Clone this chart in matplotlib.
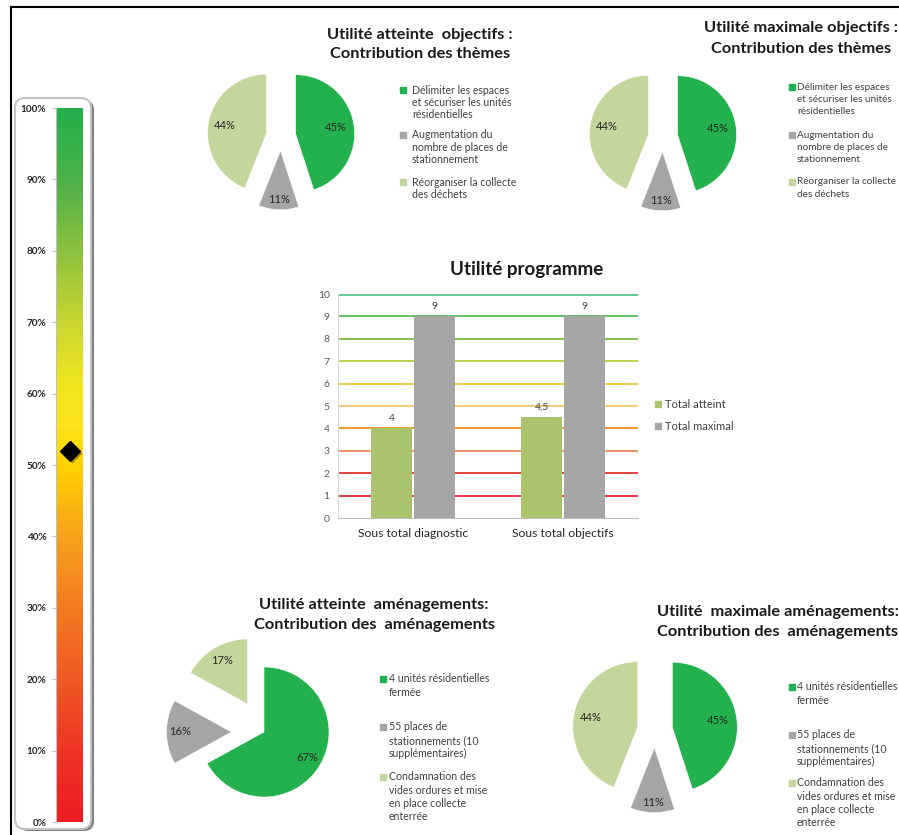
import numpy as np
import matplotlib
matplotlib.use('Agg')
import matplotlib.pyplot as plt
from matplotlib.colors import LinearSegmentedColormap
from matplotlib.patches import FancyBboxPatch, Rectangle
from matplotlib.transforms import offset_copy

plt.rcParams['font.family'] = ['Lato', 'DejaVu Sans']

# ---- data ----
gauge_ticks = [0, 10, 20, 30, 40, 50, 60, 70, 80, 90, 100]
gauge_value = 52

theme_labels = ['Délimiter les espaces\net sécuriser les unités\nrésidentielles',
                'Augmentation du\nnombre de places de\nstationnement',
                'Réorganiser la collecte\ndes déchets']
obj_atteint = [45, 11, 44]
obj_maximal = [45, 11, 44]

amen_labels = ['4 unités résidentielles\nfermée',
               '55 places de\nstationnements (10\nsupplémentaires)',
               'Condamnation des\nvides ordures et mise\nen place collecte\nenterrée']
amen_atteint = [67, 16, 17]
amen_maximal = [45, 11, 44]

prog_categories = ['Sous total diagnostic', 'Sous total objectifs']
prog_series = ['Total atteint', 'Total maximal']
total_atteint = [4, 4.5]
total_maximal = [9, 9]
prog_ticks = [0, 1, 2, 3, 4, 5, 6, 7, 8, 9, 10]

# ---- style ----
pie_colors = ['#22B14C', '#A5A5A5', '#C3D69B']
bar_colors = ['#A9C46C', '#A6A6A6']
grid_colors = ['#D9282A', '#E0342C', '#EE8A5B', '#F2901F', '#F6C56C',
               '#E9CB3A', '#BACB45', '#7DBB46', '#56BB58', '#5FC48B']
gauge_cmap = LinearSegmentedColormap.from_list('gauge', [
    (0.0, '#ED1C24'), (0.1, '#EE3524'), (0.2, '#F05A24'), (0.3, '#F47B20'),
    (0.4, '#F7A21B'), (0.5, '#FFD200'), (0.56, '#FCE51C'), (0.62, '#EFE41E'),
    (0.7, '#C9D630'), (0.8, '#8DC13F'), (0.9, '#4DB048'), (1.0, '#22B14C')])
text_col = '#404040'

W, H = 899, 835
fig = plt.figure(figsize=(W / 100, H / 100), dpi=100)

# background axes in pixel coordinates
bg = fig.add_axes([0, 0, 1, 1])
bg.set_xlim(0, W)
bg.set_ylim(H, 0)
bg.axis('off')


def px_axes(x, y, w, h):
    ax = fig.add_axes([x / W, 1 - (y + h) / H, w / W, h / H])
    ax.set_facecolor('none')
    return ax


def draw_title(x, ys, text, size, ha='center'):
    for y, line in zip(ys, text.split('\n')):
        bg.text(x, y, line, fontsize=size, fontweight='bold', ha=ha,
                va='center', color='#1a1a1a')


def draw_legend(x_sq, x_txt, y_first, lh, labels, colors, size=7.6):
    for y0, lab, c in zip(y_first, labels, colors):
        bg.add_patch(Rectangle((x_sq - 3, y0 - 3), 6, 6, color=c))
        for i, line in enumerate(lab.split('\n')):
            bg.text(x_txt, y0 + i * lh, line, fontsize=size, color=text_col,
                    ha='left', va='center')


def draw_pie(cx, cy, r, values, explode, label_dist):
    half = 2.0 * r
    ax = px_axes(cx - half, cy - half, 2 * half, 2 * half)
    wedges, _ = ax.pie(values, colors=pie_colors, startangle=90,
                       counterclock=False, explode=explode,
                       wedgeprops=dict(edgecolor='white', linewidth=0.4))
    ax.set_xlim(-half / r, half / r)
    ax.set_ylim(-half / r, half / r)
    for w, v, d in zip(wedges, values, label_dist):
        ang = np.deg2rad((w.theta1 + w.theta2) / 2)
        x0, y0 = w.center
        ax.text(x0 + d * np.cos(ang), y0 + d * np.sin(ang), f'{v}%',
                ha='center', va='center', fontsize=8, color='#262626')
    return ax


# frame lines
bg.plot([11, W], [7, 7], color='black', lw=1.5)
bg.plot([11, 11], [7, H], color='black', lw=1.5)

# ---- gauge ----
bg.add_patch(FancyBboxPatch((18, 100), 76, 731, boxstyle='round,pad=0,rounding_size=10',
                            fc='#7f7f7f', ec='none'))
bg.add_patch(FancyBboxPatch((15, 98), 76, 731, boxstyle='round,pad=0,rounding_size=10',
                            fc='white', ec='#c4c4c4', lw=1.5))
gax = px_axes(56, 108, 27, 714)
grad = np.linspace(0, 1, 256).reshape(-1, 1)
gax.imshow(grad, origin='lower', extent=[0, 1, 0, 100], aspect='auto', cmap=gauge_cmap)
gax.set_xlim(0, 1)
gax.set_ylim(0, 100)
gax.set_xticks([])
gax.set_yticks(gauge_ticks)
gax.set_yticklabels([f'{t}%' for t in gauge_ticks], fontweight='bold')
gax.tick_params(axis='y', length=3, color='#bfbfbf', labelsize=7.2,
                labelcolor='#262626', pad=4)
for s in ['top', 'right', 'bottom']:
    gax.spines[s].set_visible(False)
gax.spines['left'].set_color('#bfbfbf')
shadow_tr = offset_copy(gax.transData, fig=fig, x=2, y=-2, units='dots')
gax.plot(0.5, gauge_value, marker='D', ms=10, color='#00000055', mec='none',
         transform=shadow_tr, clip_on=False, zorder=4)
gax.plot(0.5, gauge_value, marker='D', ms=10, color='black', clip_on=False, zorder=5)

# ---- top pies ----
draw_title(420, [35, 54], 'Utilité atteinte  objectifs :\nContribution des thèmes', 11.8)
draw_pie(281, 136, 59, obj_atteint, [0.25, 0.25, 0.25], [0.69, 0.83, 0.72])
draw_legend(403, 412, [90, 135, 182], 12.3, theme_labels, pie_colors)

draw_title(801, [28, 49], 'Utilité maximale objectifs :\nContribution des thèmes', 11.8)
draw_pie(663, 137, 59, obj_maximal, [0.25, 0.25, 0.25], [0.69, 0.83, 0.72])
draw_legend(792, 797, [87, 135, 182], 12.3, theme_labels, pie_colors, size=7.2)

# ---- bar chart ----
draw_title(527, [269], 'Utilité programme', 13.5)
bax = px_axes(338, 294, 300, 224)
x = np.arange(len(prog_categories))
for lvl, c in zip(prog_ticks[1:], grid_colors):
    bax.axhline(lvl, color=c, lw=2 if lvl == 10 else 1.3, zorder=1)
bw = 0.277
for off, vals, c in zip([-0.142, 0.142], [total_atteint, total_maximal], bar_colors):
    bars = bax.bar(x + off, vals, bw, color=c, zorder=2)
    for b, v in zip(bars, vals):
        bax.annotate(f'{v:g}'.replace('.', ','), (b.get_x() + bw / 2, v),
                     xytext=(0, 4), textcoords='offset points', ha='center',
                     va='bottom', fontsize=7.5, color=text_col)
bax.set_xlim(-0.5, 1.5)
bax.set_ylim(0, 10)
bax.set_yticks(prog_ticks)
bax.set_xticks(x)
bax.set_xticklabels(prog_categories)
bax.tick_params(axis='y', length=0, labelsize=7.5, labelcolor='#595959', pad=6)
bax.tick_params(axis='x', length=0, labelsize=8.7, labelcolor='#262626', pad=7)
for s in ['top', 'right']:
    bax.spines[s].set_visible(False)
bax.spines['left'].set_color('#d9d9d9')
bax.spines['bottom'].set_color('#bfbfbf')
draw_legend(658, 665, [404, 426], 12, prog_series, bar_colors, size=8)

# ---- bottom pies ----
draw_title(374, [605, 625], 'Utilité atteinte  aménagements:\nContribution des  aménagements', 11.8)
draw_pie(264, 732, 65, amen_atteint, [0, 0.5, 0.5], [0.78, 0.8, 0.78])
draw_legend(383, 389, [679, 727, 777], 13.3, amen_labels, pie_colors)

draw_title(657, [612, 632], 'Utilité  maximale aménagements:\nContribution des  aménagements', 11.8, ha='left')
draw_pie(655, 730, 65, amen_maximal, [0.27, 0.27, 0.27], [0.7, 0.85, 0.73])
draw_legend(792, 797, [687, 735, 783], 13.3, amen_labels, pie_colors)

fig.savefig('out.png', dpi=100)
